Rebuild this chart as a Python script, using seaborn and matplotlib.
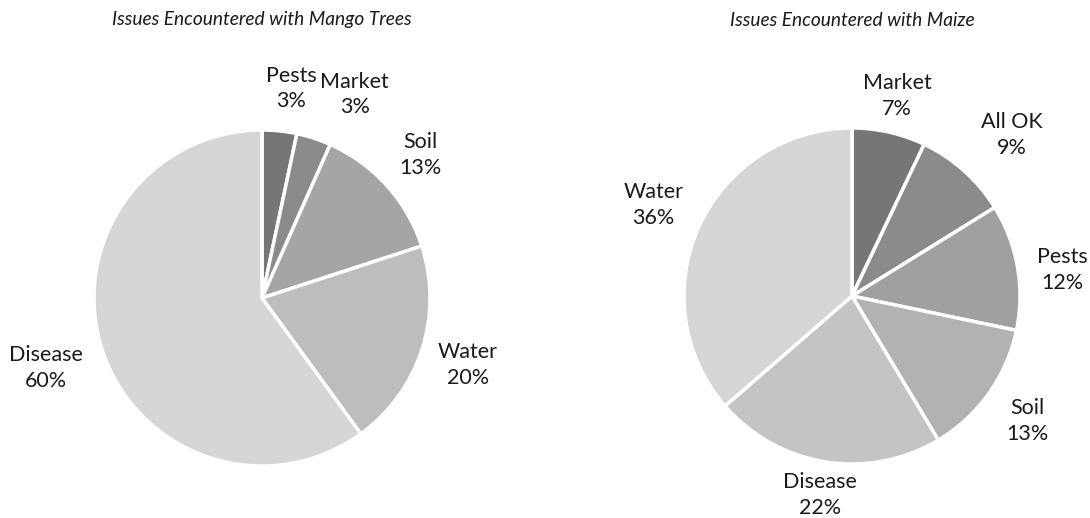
import numpy as np
import matplotlib
matplotlib.use("Agg")
import matplotlib.pyplot as plt
import seaborn as sns

# mango survey (percent of farmers)
mango_labels = ["Pests", "Market", "Soil", "Water", "Disease"]
mango_values = [3.33, 3.33, 13.33, 20.0, 60.0]

# maize survey (percent of farmers)
maize_labels = ["Market", "All OK", "Pests", "Soil", "Disease", "Water"]
maize_values = [7, 9, 12, 13, 22, 36]

sns.set_theme(style="white")
plt.rcParams['font.family'] = ['Lato', 'DejaVu Sans']

mango_colors = ["#767676", "#8b8b8b", "#a5a5a5", "#bdbdbd", "#d6d6d6"]
maize_colors = ["#767676", "#8b8b8b", "#a0a0a0", "#b2b2b2", "#c4c4c4", "#d6d6d6"]

# label distance (in radii) and angle nudge (deg, clockwise), like Excel "best fit"
mango_dist = [1.26, 1.33, 1.27, 1.29, 1.35]
mango_nudge = [2, 6.5, 0, 0, 0]
maize_dist = [1.22, 1.35, 1.26, 1.28, 1.2, 1.3]
maize_nudge = [0, 3, 3, 0, 0, 0]

W, H = 1090, 518
R = 168  # pie radius in pixels
fig = plt.figure(figsize=(W / 100, H / 100), dpi=100)


def draw_pie(cx, cy, labels, values, colors, dist, nudge, title):
    half = 1.6 * R
    ax = fig.add_axes([(cx - half) / W, (H - cy - half) / H,
                       2 * half / W, 2 * half / H])
    wedges, _ = ax.pie(values, colors=colors, startangle=90,
                       counterclock=False, radius=1,
                       wedgeprops=dict(edgecolor="white", linewidth=2.5))
    ax.set_xlim(-1.6, 1.6)
    ax.set_ylim(-1.6, 1.6)
    total = sum(values)
    for w, lab, v, d, n in zip(wedges, labels, values, dist, nudge):
        ang = np.deg2rad((w.theta1 + w.theta2) / 2 - n)
        ax.text(d * np.cos(ang), d * np.sin(ang),
                f"{lab}\n{round(100 * v / total)}%",
                ha="center", va="center", fontsize=15.5,
                color="#1a1a1a", linespacing=1.35)
    ax.set_aspect("equal")
    ax.axis("off")
    fig.text(cx / W, 1 - 20 / H, title, ha="center", va="center",
             fontsize=13.8, style="italic", color="#1a1a1a")


draw_pie(262, 298, mango_labels, mango_values, mango_colors, mango_dist,
         mango_nudge, "Issues Encountered with Mango Trees")
draw_pie(852, 296, maize_labels, maize_values, maize_colors, maize_dist,
         maize_nudge, "Issues Encountered with Maize")

fig.savefig("out.png", dpi=100)
